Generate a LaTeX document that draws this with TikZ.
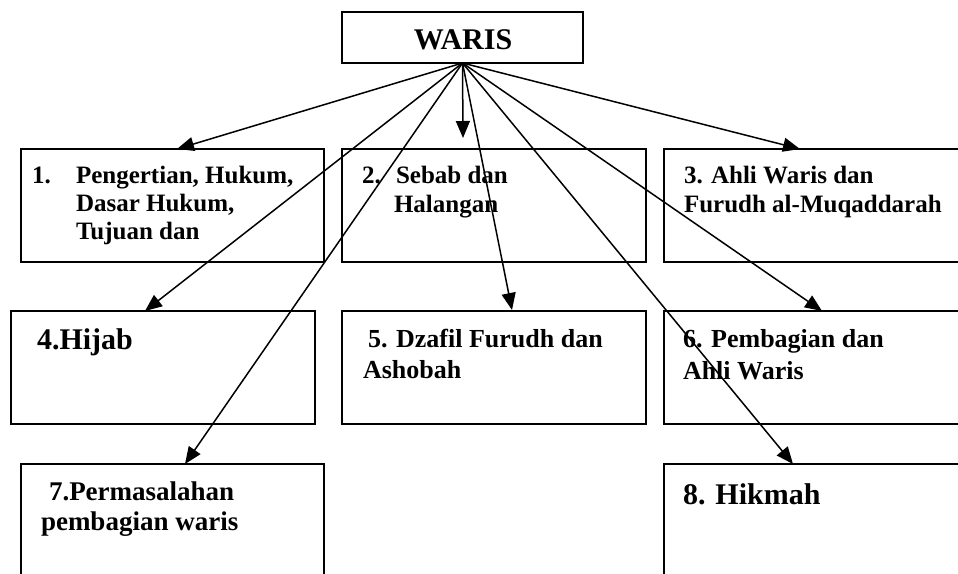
\documentclass[tikz,border=0pt]{standalone}
\usepackage{fontspec}
\setmainfont{Liberation Serif}
\usetikzlibrary{arrows.meta}
\tikzset{
  box/.style={draw=black, line width=2pt, anchor=north west, inner sep=0pt, outer sep=0pt},
  txt/.style={anchor=base west, inner sep=0pt, outer sep=0pt, font=\bfseries},
  conn/.style={line width=1.5pt, -{Triangle[length=17pt,width=14pt]}},
}
\newcommand{\fs}[1]{\fontsize{#1}{#1}\selectfont}
\begin{document}
\begin{tikzpicture}[x=1pt,y=-1pt]
\useasboundingbox (0,0) rectangle (958,573);
\clip (0,0) rectangle (958,573);
% boxes
\node[box, minimum width=241pt, minimum height=51pt] (waris) at (342,12) {};
\node[txt, anchor=base] (wt) at (463,49) {\fs{30}WARIS};
\node[box, minimum width=303pt, minimum height=113pt] (b1) at (21,149) {};
\node[box, minimum width=304pt, minimum height=113pt] (b2) at (342,149) {};
\node[box, minimum width=320pt, minimum height=113pt] (b3) at (664,149) {};
\node[box, minimum width=304pt, minimum height=113pt] (b4) at (11,311) {};
\node[box, minimum width=304pt, minimum height=113pt] (b5) at (342,311) {};
\node[box, minimum width=320pt, minimum height=113pt] (b6) at (664,311) {};
\node[box, minimum width=303pt, minimum height=140pt] (b7) at (21,464) {};
\node[box, minimum width=320pt, minimum height=140pt] (b8) at (664,464) {};
% texts
\node[txt] (t1n) at (32,183) {\fs{25}1.};
\node[txt] (t1a) at (76,183) {\fs{25}Pengertian, Hukum,};
\node[txt] (t1b) at (76,211) {\fs{25}Dasar Hukum,};
\node[txt] (t1c) at (76,239) {\fs{25}Tujuan dan};
\node[txt] (t2n) at (362,183) {\fs{25}2.};
\node[txt] (t2a) at (396,183) {\fs{25}Sebab dan};
\node[txt] (t2b) at (394,212) {\fs{25}Halangan};
\node[txt] (t3a) at (684,183) {\fs{25}3. Ahli Waris dan};
\node[txt] (t3b) at (684,212) {\fs{25}Furudh al-Muqaddarah};
\node[txt] (t4a) at (37,349) {\fs{30}4.Hijab};
\node[txt] (t5a) at (368,347) {\fs{26}5. Dzafil Furudh dan};
\node[txt] (t5b) at (363,378) {\fs{26}Ashobah};
\node[txt] (t6a) at (683,347) {\fs{26}6. Pembagian dan};
\node[txt] (t6b) at (683,379) {\fs{26}Ahli Waris};
\node[txt] (t7a) at (49,500) {\fs{27}7.Permasalahan};
\node[txt] (t7b) at (41,530) {\fs{27}pembagian waris};
\node[txt] (t8a) at (683,504) {\fs{30}8. Hikmah};
% arrow tips
\coordinate (c1) at (177,149);
\coordinate (c2) at (463,138);
\coordinate (c3) at (800,149);
\coordinate (c4) at (145,311);
\coordinate (c5) at (512,310);
\coordinate (c6) at (822,311);
\coordinate (c7) at (185,464);
\coordinate (c8) at (793,464);
\foreach \c in {c1,c2,c3,c4,c5,c6,c7,c8}
  \draw[conn] (waris.south) -- (\c);
\end{tikzpicture}
\end{document}
